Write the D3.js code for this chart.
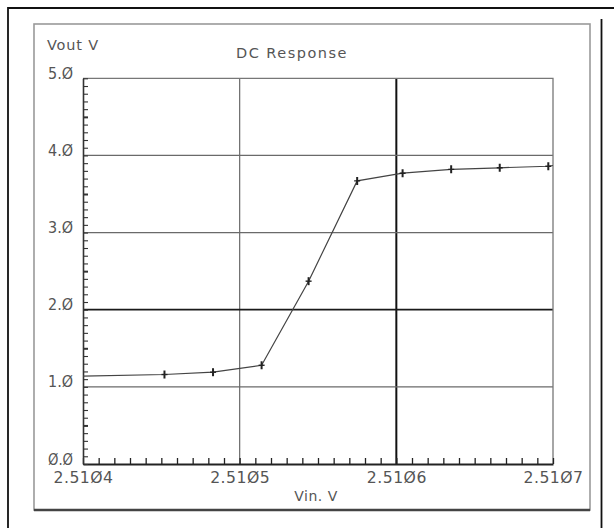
<!DOCTYPE html>
<html>
<head>
<meta charset="utf-8">
<script src="https://cdn.jsdelivr.net/npm/d3@7/dist/d3.min.js"></script>
<style>
  html, body { margin: 0; padding: 0; background: #fff; }
  svg { display: block; }
  text { font-family: "DejaVu Sans", sans-serif; fill: #555; }
</style>
</head>
<body>
<svg id="chart" width="614" height="528"></svg>
<script>
// DC sweep of the comparator: input voltage vs output voltage
const vin  = [2.51040, 2.510452, 2.510483, 2.510514, 2.510544, 2.510575, 2.510604, 2.510635, 2.510666, 2.510697, 2.51070];
const vout = [1.14,    1.16,     1.19,     1.28,     2.37,     3.67,     3.77,     3.82,     3.84,     3.86,     3.87];

const xTickValues = [2.5104, 2.5105, 2.5106, 2.5107];
const xTickLabels = ["2.51Ø4", "2.51Ø5", "2.51Ø6", "2.51Ø7"];
const yTickValues = [0, 1, 2, 3, 4, 5];
const yTickLabels = ["Ø.Ø", "1.Ø", "2.Ø", "3.Ø", "4.Ø", "5.Ø"];
const xMinorStep = 0.00001;
const yMinorStep = 0.1;

const title = "DC Response";
const yTitle = "Vout V";
const xTitle = "Vin. V";

const svg = d3.select("#chart");

// page frame (open at the bottom)
svg.append("path")
  .attr("d", "M8,528 L8,8 L614,8 M601.5,19 L601.5,528")
  .attr("fill", "none").attr("stroke", "#111").attr("stroke-width", 1.8);

// panel
svg.append("rect")
  .attr("x", 34).attr("y", 24).attr("width", 556).attr("height", 486)
  .attr("fill", "#fff").attr("stroke", "#9a9a9a").attr("stroke-width", 1.6);
svg.append("line")
  .attr("x1", 34).attr("x2", 590).attr("y1", 510).attr("y2", 510)
  .attr("stroke", "#444").attr("stroke-width", 2.4);

const plot = { left: 83, right: 553, top: 78.3, bottom: 464 };

const x = d3.scaleLinear().domain([xTickValues[0], xTickValues[xTickValues.length - 1]])
  .range([plot.left, plot.right]);
const y = d3.scaleLinear().domain([yTickValues[0], yTickValues[yTickValues.length - 1]])
  .range([plot.bottom, plot.top]);

// grid lines
const gx = svg.append("g");
xTickValues.slice(1, -1).forEach((v, i) => {
  const dark = i === 1;
  gx.append("line")
    .attr("x1", x(v)).attr("x2", x(v)).attr("y1", plot.top).attr("y2", plot.bottom)
    .attr("stroke", dark ? "#111" : "#6a6a6a").attr("stroke-width", dark ? 2 : 1.2);
});
yTickValues.slice(1, -1).forEach(v => {
  const dark = v === 2;
  gx.append("line")
    .attr("x1", plot.left).attr("x2", plot.right).attr("y1", y(v)).attr("y2", y(v))
    .attr("stroke", dark ? "#1a1a1a" : "#6a6a6a").attr("stroke-width", dark ? 1.8 : 1.2);
});

// plot frame: top and right edges lighter
svg.append("path")
  .attr("d", `M${plot.left},${plot.top} L${plot.right},${plot.top} L${plot.right},${plot.bottom}`)
  .attr("fill", "none").attr("stroke", "#777").attr("stroke-width", 1.3);

// minor ticks pointing into the plot
const xMinor = d3.range(0, Math.round((x.domain()[1] - x.domain()[0]) / xMinorStep) + 1)
  .map(i => x.domain()[0] + i * xMinorStep);
const yMinor = d3.range(0, Math.round((y.domain()[1] - y.domain()[0]) / yMinorStep) + 1)
  .map(i => y.domain()[0] + i * yMinorStep);

const xAxis = svg.append("g")
  .attr("transform", `translate(0,${plot.bottom})`)
  .call(d3.axisBottom(x).tickValues(xMinor).tickSize(-6).tickSizeOuter(0).tickFormat(""));
xAxis.select(".domain").attr("stroke", "#222").attr("stroke-width", 1.8);
xAxis.selectAll(".tick line").attr("stroke", "#222").attr("stroke-width", 1.3);

const yAxis = svg.append("g")
  .attr("transform", `translate(${plot.left},0)`)
  .call(d3.axisLeft(y).tickValues(yMinor).tickSize(-5).tickSizeOuter(0).tickFormat(""));
yAxis.select(".domain").attr("stroke", "#333").attr("stroke-width", 1.6);
yAxis.selectAll(".tick line")
  .attr("stroke", "#333")
  .attr("stroke-width", d => Math.abs(d * 2 - Math.round(d * 2)) < 1e-6 && Math.abs(d - Math.round(d)) > 1e-6 ? 2 : 1.1);

// major labels
const xLab = svg.append("g")
  .attr("transform", `translate(0,${plot.bottom})`)
  .call(d3.axisBottom(x).tickValues(xTickValues).tickSize(0)
    .tickFormat((d, i) => xTickLabels[i]));
xLab.select(".domain").remove();
xLab.selectAll("text")
  .attr("y", 19).attr("dy", 0)
  .attr("font-size", 16).attr("font-family", "DejaVu Sans")
  .attr("fill", "#555").style("letter-spacing", "0.5px")
  .attr("textLength", 60).attr("lengthAdjust", "spacingAndGlyphs");

const yLab = svg.append("g")
  .attr("transform", `translate(${plot.left},0)`)
  .call(d3.axisLeft(y).tickValues(yTickValues).tickSize(0)
    .tickFormat((d, i) => yTickLabels[i]));
yLab.select(".domain").remove();
yLab.selectAll("text")
  .attr("x", -10).attr("dy", 0)
  .attr("font-size", 15).attr("font-family", "DejaVu Sans")
  .attr("fill", "#555")
  .attr("textLength", 25).attr("lengthAdjust", "spacingAndGlyphs");

// titles
svg.append("text").attr("x", 47).attr("y", 50)
  .attr("font-size", 14.5).style("letter-spacing", "0.8px").text(yTitle);
svg.append("text").attr("x", 292).attr("y", 58).attr("text-anchor", "middle")
  .attr("font-size", 14.5).style("letter-spacing", "1.5px").attr("fill", "#444").text(title);
svg.append("text").attr("x", 316).attr("y", 501).attr("text-anchor", "middle")
  .attr("font-size", 14).style("letter-spacing", "0.5px").text(xTitle);

// response curve
const pts = vin.map((v, i) => [v, vout[i]]);
svg.append("defs").append("clipPath").attr("id", "plot-clip")
  .append("rect").attr("x", plot.left).attr("y", plot.top)
  .attr("width", plot.right - plot.left).attr("height", plot.bottom - plot.top);

const g = svg.append("g").attr("clip-path", "url(#plot-clip)");
g.append("path")
  .datum(pts)
  .attr("d", d3.line().x(d => x(d[0])).y(d => y(d[1])))
  .attr("fill", "none").attr("stroke", "#444").attr("stroke-width", 1.2);

// sample markers
const inner = pts.filter(d => d[0] > x.domain()[0] && d[0] < x.domain()[1]);
const mk = g.selectAll("g.mk").data(inner).join("g")
  .attr("class", "mk")
  .attr("transform", d => `translate(${x(d[0])},${y(d[1])})`);
mk.append("line").attr("x1", 0).attr("x2", 0).attr("y1", -4).attr("y2", 4)
  .attr("stroke", "#222").attr("stroke-width", 2);
mk.append("line").attr("x1", -3).attr("x2", 3).attr("y1", 0).attr("y2", 0)
  .attr("stroke", "#222").attr("stroke-width", 1.4);
</script>
</body>
</html>
